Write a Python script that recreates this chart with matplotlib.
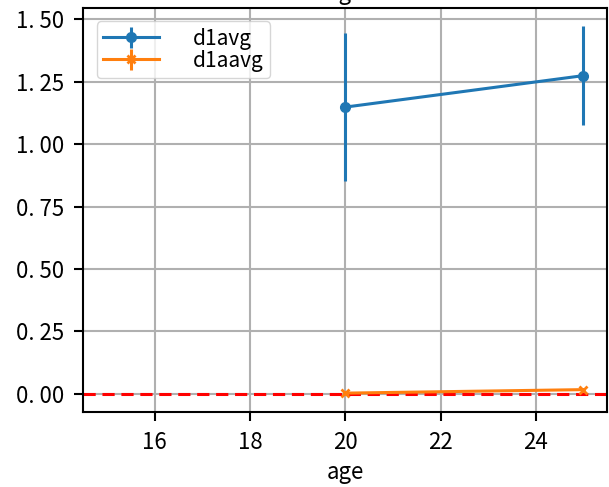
import matplotlib
matplotlib.use("Agg")
import matplotlib.pyplot as plt

plt.rcParams["font.family"] = ["Noto Sans CJK JP", "DejaVu Sans"]

# ── Data ──────────────────────────────────────────────────────────────────────
age        = [20, 25]
d1avg      = [1.148, 1.274]
d1avg_err  = [0.296, 0.198]
d1aavg     = [0.003, 0.017]
d1aavg_err = [0.002, 0.003]

yticks      = [0.0, 0.25, 0.5, 0.75, 1.0, 1.25, 1.5]
ytick_texts = ["0. 00", "0. 25", "0. 50", "0. 75", "1. 00", "1. 25", "1. 50"]

fig = plt.figure(figsize=(6.09, 4.87), dpi=100)
ax = fig.add_axes([0.137, 0.154, 0.860, 0.830])

ax.errorbar(age, d1avg, yerr=d1avg_err, marker="o", markersize=7,
            linewidth=2.2, elinewidth=2.2, color="#1f77b4", label="d1avg")
ax.errorbar(age, d1aavg, yerr=d1aavg_err, marker="x", markersize=6,
            markeredgewidth=2, linewidth=2.2, elinewidth=2.2,
            color="#ff7f0e", label="d1aavg")
ax.axhline(0, color="red", linestyle="--", linewidth=2.2, dashes=(4, 2.2))

ax.set_xlim(14.5, 25.5)
ax.set_xticks([16, 18, 20, 22, 24])
ax.set_yticks(yticks)
ax.set_yticklabels(ytick_texts)
ax.tick_params(labelsize=16, width=1.5, length=6.5, pad=7.5)
for s in ax.spines.values():
    s.set_linewidth(1.5)
ax.grid(True, color="#b0b0b0", linewidth=1.5)
ax.set_axisbelow(True)
ax.set_xlabel("age", fontsize=16, labelpad=5)

# title sits above the canvas, only its descender shows (as in the original)
fig.text(0.567, 1.0, "age", ha="center", va="baseline", fontsize=16)

ax.legend(loc="upper left", fontsize=15, handlelength=2.7, handletextpad=1.6,
          labelspacing=0.0, borderpad=0.3, borderaxespad=0.65,
          edgecolor="#cccccc")

fig.savefig("out.png", dpi=100)
